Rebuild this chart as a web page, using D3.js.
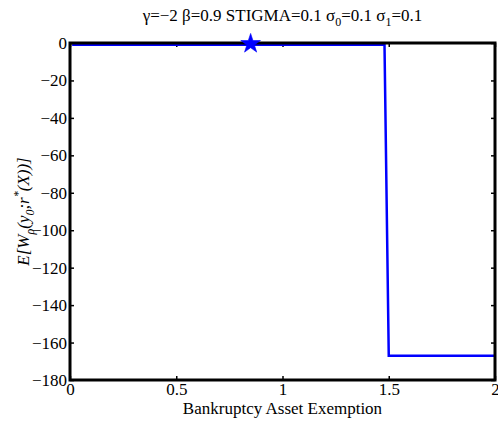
<!DOCTYPE html>
<html>
<head>
<meta charset="utf-8">
<script src="https://cdn.jsdelivr.net/npm/d3@7"></script>
<style>
  body { margin: 0; background: #fff; }
</style>
</head>
<body>
<div id="chart"></div>
<script>
// data
const exemption = [0.01, 0.85, 1.48, 1.50, 2.0];
const welfare = [-1, -1, -1, -167, -167];
const starPoint = { x: 0.85, y: -0.4 };
const xTicks = [0, 0.5, 1, 1.5, 2];
const yTicks = [0, -20, -40, -60, -80, -100, -120, -140, -160, -180];

const W = 498, H = 421;
const M = { t: 43, r: 3, b: 41, l: 70 };
const FS = 17;
const FONT = '"Liberation Serif"';

const svg = d3.select('#chart').append('svg')
  .attr('width', W)
  .attr('height', H)
  .style('display', 'block')
  .style('font-family', FONT);

const x = d3.scaleLinear().domain([0, 2]).range([M.l, W - M.r]);
const y = d3.scaleLinear().domain([-180, 0]).range([H - M.b, M.t]);

// inward ticks, box style
const tickLen = 4;
const styleTicks = g => {
  g.attr('font-family', null);
  g.select('.domain').remove();
  g.selectAll('line').attr('stroke', '#000').attr('stroke-width', 1.5);
  g.selectAll('text').style('font-family', FONT).attr('font-size', FS).attr('fill', '#000');
};

svg.append('g')
  .attr('transform', `translate(0,${H - M.b})`)
  .call(d3.axisBottom(x).tickValues(xTicks).tickSize(-tickLen).tickPadding(3).tickFormat(d3.format('')))
  .call(styleTicks);

svg.append('g')
  .attr('transform', `translate(0,${M.t})`)
  .call(d3.axisTop(x).tickValues(xTicks).tickSize(-tickLen).tickFormat(''))
  .call(styleTicks);

svg.append('g')
  .attr('transform', `translate(${M.l},0)`)
  .call(d3.axisLeft(y).tickValues(yTicks).tickSize(-tickLen).tickPadding(3).tickFormat(d => d < 0 ? '\u2212' + Math.abs(d) : d))
  .call(styleTicks);

svg.append('g')
  .attr('transform', `translate(${W - M.r},0)`)
  .call(d3.axisRight(y).tickValues(yTicks).tickSize(-tickLen).tickFormat(''))
  .call(styleTicks);

const line = d3.line()
  .x((d, i) => x(exemption[i]))
  .y(d => y(d));

svg.append('path')
  .datum(welfare)
  .attr('fill', 'none')
  .attr('stroke', '#0000ff')
  .attr('stroke-width', 2.5)
  .attr('d', line);

// box frame
svg.append('rect')
  .attr('x', M.l)
  .attr('y', M.t)
  .attr('width', W - M.l - M.r)
  .attr('height', H - M.t - M.b)
  .attr('fill', 'none')
  .attr('stroke', '#000')
  .attr('stroke-width', 3);

// optimum marker
svg.append('path')
  .attr('d', d3.symbol(d3.symbolStar, 120)())
  .attr('transform', `translate(${x(starPoint.x)},${y(starPoint.y)})`)
  .attr('fill', '#0000ff')
  .attr('stroke', '#0000ff')
  .attr('stroke-width', 0.6);

// title
const title = svg.append('text')
  .attr('x', (M.l + W - M.r) / 2)
  .attr('y', 21)
  .attr('text-anchor', 'middle')
  .attr('font-size', FS)
  .style('font-family', FONT);
title.append('tspan').text('\u03b3=\u22122 \u03b2=0.9 STIGMA=0.1 \u03c3');
title.append('tspan').attr('font-size', 12).attr('dy', 5).text('0');
title.append('tspan').attr('dy', -5).text('=0.1 \u03c3');
title.append('tspan').attr('font-size', 12).attr('dy', 5).text('1');
title.append('tspan').attr('dy', -5).text('=0.1');

// x label
svg.append('text')
  .attr('x', (M.l + W - M.r) / 2)
  .attr('y', 414)
  .attr('text-anchor', 'middle')
  .attr('font-size', FS)
  .style('font-family', FONT)
  .text('Bankruptcy Asset Exemption');

// y label
const yl = svg.append('text')
  .attr('transform', `translate(29,${(M.t + H - M.b) / 2}) rotate(-90)`)
  .attr('text-anchor', 'middle')
  .attr('font-size', FS)
  .attr('font-style', 'italic')
  .style('font-family', FONT);
yl.append('tspan').text('E[W');
yl.append('tspan').attr('font-size', 12).attr('dy', 5).text('\u03c1');
yl.append('tspan').attr('dy', -5).text('(y');
yl.append('tspan').attr('font-size', 12).attr('dy', 5).text('0');
yl.append('tspan').attr('dy', -5).text(';r');
yl.append('tspan').attr('font-size', 12).attr('dy', -7).text('*');
yl.append('tspan').attr('dy', 7).text('(X))]');
</script>
</body>
</html>
